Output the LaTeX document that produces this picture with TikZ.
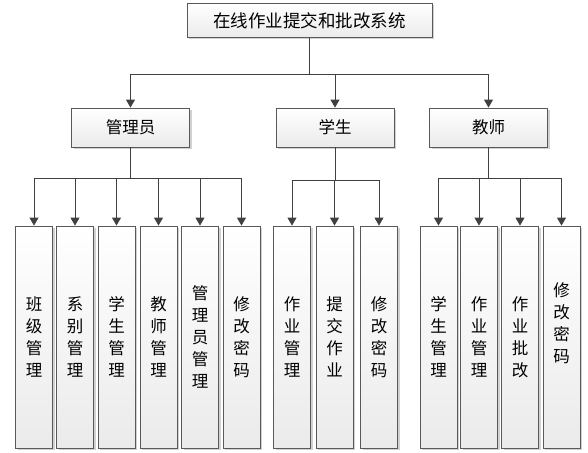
\documentclass[tikz,border=0pt]{standalone}
\usepackage{fontspec}
\newfontfamily\cjk{Noto Sans CJK SC}
\usepackage{tikz}
\usetikzlibrary{arrows.meta,shadows,positioning}

\tikzset{
  box/.style={draw=black!65, line width=0.8pt, top color=white, bottom color=black!8,
    drop shadow={shadow xshift=2pt, shadow yshift=-2pt, opacity=0.3, fill=black!60},
    inner sep=0pt, font=\cjk},
  topbox/.style={box, minimum width=245pt, minimum height=34pt, font=\cjk\fontsize{17.5}{20}\selectfont},
  rolebox/.style={box, minimum width=118pt, minimum height=39pt, font=\cjk\fontsize{16.5}{20}\selectfont},
  leafbox/.style={box, minimum width=37pt, minimum height=222pt, align=center,
    font=\cjk\fontsize{16.5}{22}\selectfont},
  conn/.style={draw=black!75, line width=0.9pt},
  arr/.style={conn, -{Triangle[width=9pt,length=8pt]}}
}

\begin{document}
\begin{tikzpicture}[x=1pt,y=-1pt]
\useasboundingbox (0,0) rectangle (588,452);

% top
\node[topbox] (sys) at (309.5,20.5) {在线作业提交和批改系统};

% roles
\node[rolebox] (admin) at (130.5,127.5) {管理员};
\node[rolebox] (stud) at (335,127.5) {学生};
\node[rolebox] (teach) at (488.5,127.5) {教师};

\coordinate (bus0) at (309.5,74);
\draw[conn] (sys.south) -- (bus0);
\foreach \r in {admin,stud,teach}
  \draw[arr] (bus0) -| (\r.north);

% admin leaves
\node[leafbox] (a1) at (34,337) {班\\级\\管\\理};
\node[leafbox] (a2) at (75,337) {系\\别\\管\\理};
\node[leafbox] (a3) at (116.5,337) {学\\生\\管\\理};
\node[leafbox] (a4) at (158.5,337) {教\\师\\管\\理};
\node[leafbox] (a5) at (200,337) {管\\理\\员\\管\\理};
\node[leafbox] (a6) at (241.5,337) {修\\改\\密\\码};

% student leaves
\node[leafbox] (s1) at (292,337) {作\\业\\管\\理};
\node[leafbox] (s2) at (334.5,337) {提\\交\\作\\业};
\node[leafbox] (s3) at (379,337) {修\\改\\密\\码};

% teacher leaves
\node[leafbox] (t1) at (438.5,337) {学\\生\\管\\理};
\node[leafbox] (t2) at (479,337) {作\\业\\管\\理};
\node[leafbox] (t3) at (520,337) {作\\业\\批\\改};
\node[leafbox, text depth=28pt] (t4) at (561.5,337) {修\\改\\密\\码};

\coordinate (bus1) at (130.5,178);
\coordinate (bus2) at (335,180);
\coordinate (bus3) at (488.5,178);
\draw[conn] (admin.south) -- (bus1);
\draw[conn] (stud.south) -- (bus2);
\draw[conn] (teach.south) -- (bus3);
\foreach \l in {a1,a2,a3,a4,a5,a6}
  \draw[arr] (bus1) -| (\l.north);
\foreach \l in {s1,s2,s3}
  \draw[arr] (bus2) -| (\l.north);
\foreach \l in {t1,t2,t3,t4}
  \draw[arr] (bus3) -| (\l.north);

\end{tikzpicture}
\end{document}
